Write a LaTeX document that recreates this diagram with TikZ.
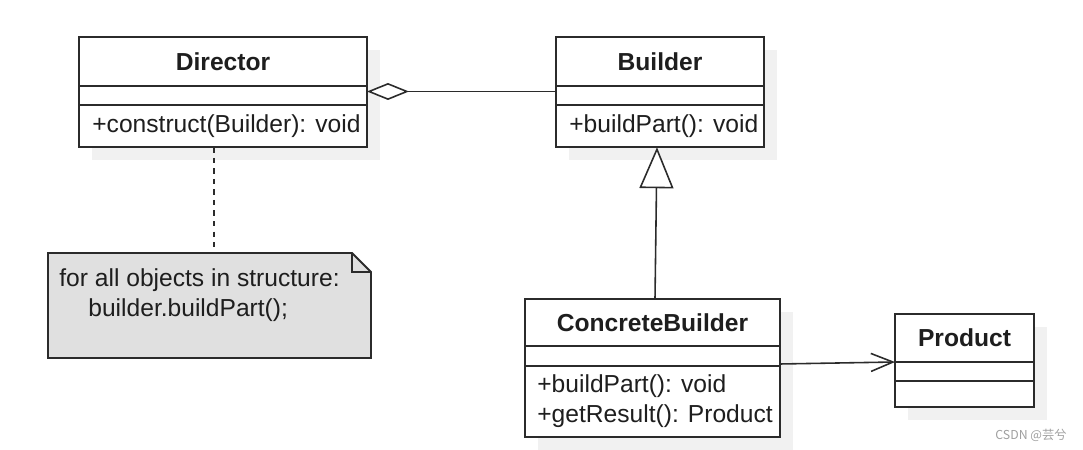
\documentclass[tikz,border=0pt]{standalone}
\usepackage{fontspec}
\setmainfont{Liberation Sans}
\newfontfamily\cjkfont{Noto Sans CJK SC}
\usetikzlibrary{positioning,arrows.meta,shadows}
\definecolor{umlline}{HTML}{2B2B2B}
\definecolor{umltext}{HTML}{1E1E1E}
\definecolor{notefill}{HTML}{E0E0E0}
\definecolor{shadowgray}{HTML}{F1F1F1}
\begin{document}
\begin{tikzpicture}[x=0.02cm,y=-0.02cm,
    font=\fontsize{14}{17}\selectfont,text=umltext,
    cls/.style={draw=umlline,line width=1.1pt,fill=white,inner sep=0pt,outer sep=0pt,
      drop shadow={shadow xshift=0.26cm,shadow yshift=-0.26cm,fill=shadowgray,opacity=1}},
    clstitle/.style={cls,font=\fontsize{14}{17}\selectfont\bfseries},
    clsrow/.style={cls},
    member/.style={inner sep=0pt,align=left},
    link/.style={draw=umlline,line width=0.9pt}]
  \useasboundingbox (0,0) rectangle (1083,450);

  % Director
  \node[clstitle,minimum width=5.76cm,minimum height=0.97cm] (dir) at (223,61.5) {Director};
  \node[clsrow,minimum width=5.76cm,minimum height=0.39cm,below=0pt of dir] (dir-a) {};
  \node[clsrow,minimum width=5.76cm,minimum height=0.84cm,below=0pt of dir-a] (dir-m) {};
  \node[member,right=0.26cm of dir-m.west] (dir-op) {+construct(Builder): void};

  % Builder
  \node[clstitle,minimum width=4.16cm,minimum height=0.97cm] (bld) at (660,61.5) {Builder};
  \node[clsrow,minimum width=4.16cm,minimum height=0.39cm,below=0pt of bld] (bld-a) {};
  \node[clsrow,minimum width=4.16cm,minimum height=0.84cm,below=0pt of bld-a] (bld-m) {};
  \node[member,right=0.26cm of bld-m.west] (bld-op) {+buildPart(): void};

  % ConcreteBuilder
  \node[clstitle,minimum width=5.10cm,minimum height=0.94cm] (cb) at (652.5,322.5) {ConcreteBuilder};
  \node[clsrow,minimum width=5.10cm,minimum height=0.40cm,below=0pt of cb] (cb-a) {};
  \node[clsrow,minimum width=5.10cm,minimum height=1.42cm,below=0pt of cb-a] (cb-m) {};
  \node[member,right=0.24cm of cb-m.west] (cb-op) {+buildPart(): void\\+getResult(): Product};

  % Product
  \node[clstitle,minimum width=2.78cm,minimum height=0.96cm] (pr) at (964.5,338) {Product};
  \node[clsrow,minimum width=2.78cm,minimum height=0.38cm,below=0pt of pr] (pr-a) {};
  \node[clsrow,minimum width=2.78cm,minimum height=0.52cm,below=0pt of pr-a] (pr-m) {};

  % note
  \node[minimum width=6.46cm,minimum height=2.10cm,inner sep=0pt,outer sep=0pt] (note) at (209.5,305.5) {};
  \draw[fill=notefill,draw=umlline,line width=1.1pt] (note.south west) -- (note.north west)
    -- ([xshift=-0.38cm]note.north east) -- ([yshift=-0.38cm]note.north east) -- (note.south east) -- cycle;
  \draw[draw=umlline,line width=1.1pt] ([xshift=-0.38cm]note.north east) |- ([yshift=-0.38cm]note.north east);
  \node[anchor=north west,align=left,inner sep=0pt] (note-txt) at ([xshift=0.22cm,yshift=-0.30cm]note.north west)
    {for all objects in structure:\\\hspace*{0.58cm}builder.buildPart();};

  % connectors
  \draw[link,dash pattern=on 3pt off 3pt] ([xshift=-0.18cm]dir-m.south) -- ([xshift=-0.18cm]dir-m.south |- note.north);
  \draw[link,{Diamond[fill=white,length=0.84cm,width=0.34cm]}-] ([yshift=0.08cm]dir-a.east) -- ([yshift=0.08cm]bld-a.west);
  \draw[link,-{Triangle[fill=white,length=0.82cm,width=0.68cm]}] ([xshift=0.05cm]cb.north) -- ([xshift=-0.06cm]bld-m.south);
  \draw[link,-{Straight Barb[length=0.44cm,width=0.36cm]}] ([yshift=-0.16cm]cb-a.east) -- (pr.south west);

  \node[anchor=east,inner sep=0pt,text=gray!75,font=\cjkfont\fontsize{7}{8}\selectfont] (mark) at (1067,435) {CSDN @芸兮};
\end{tikzpicture}
\end{document}
